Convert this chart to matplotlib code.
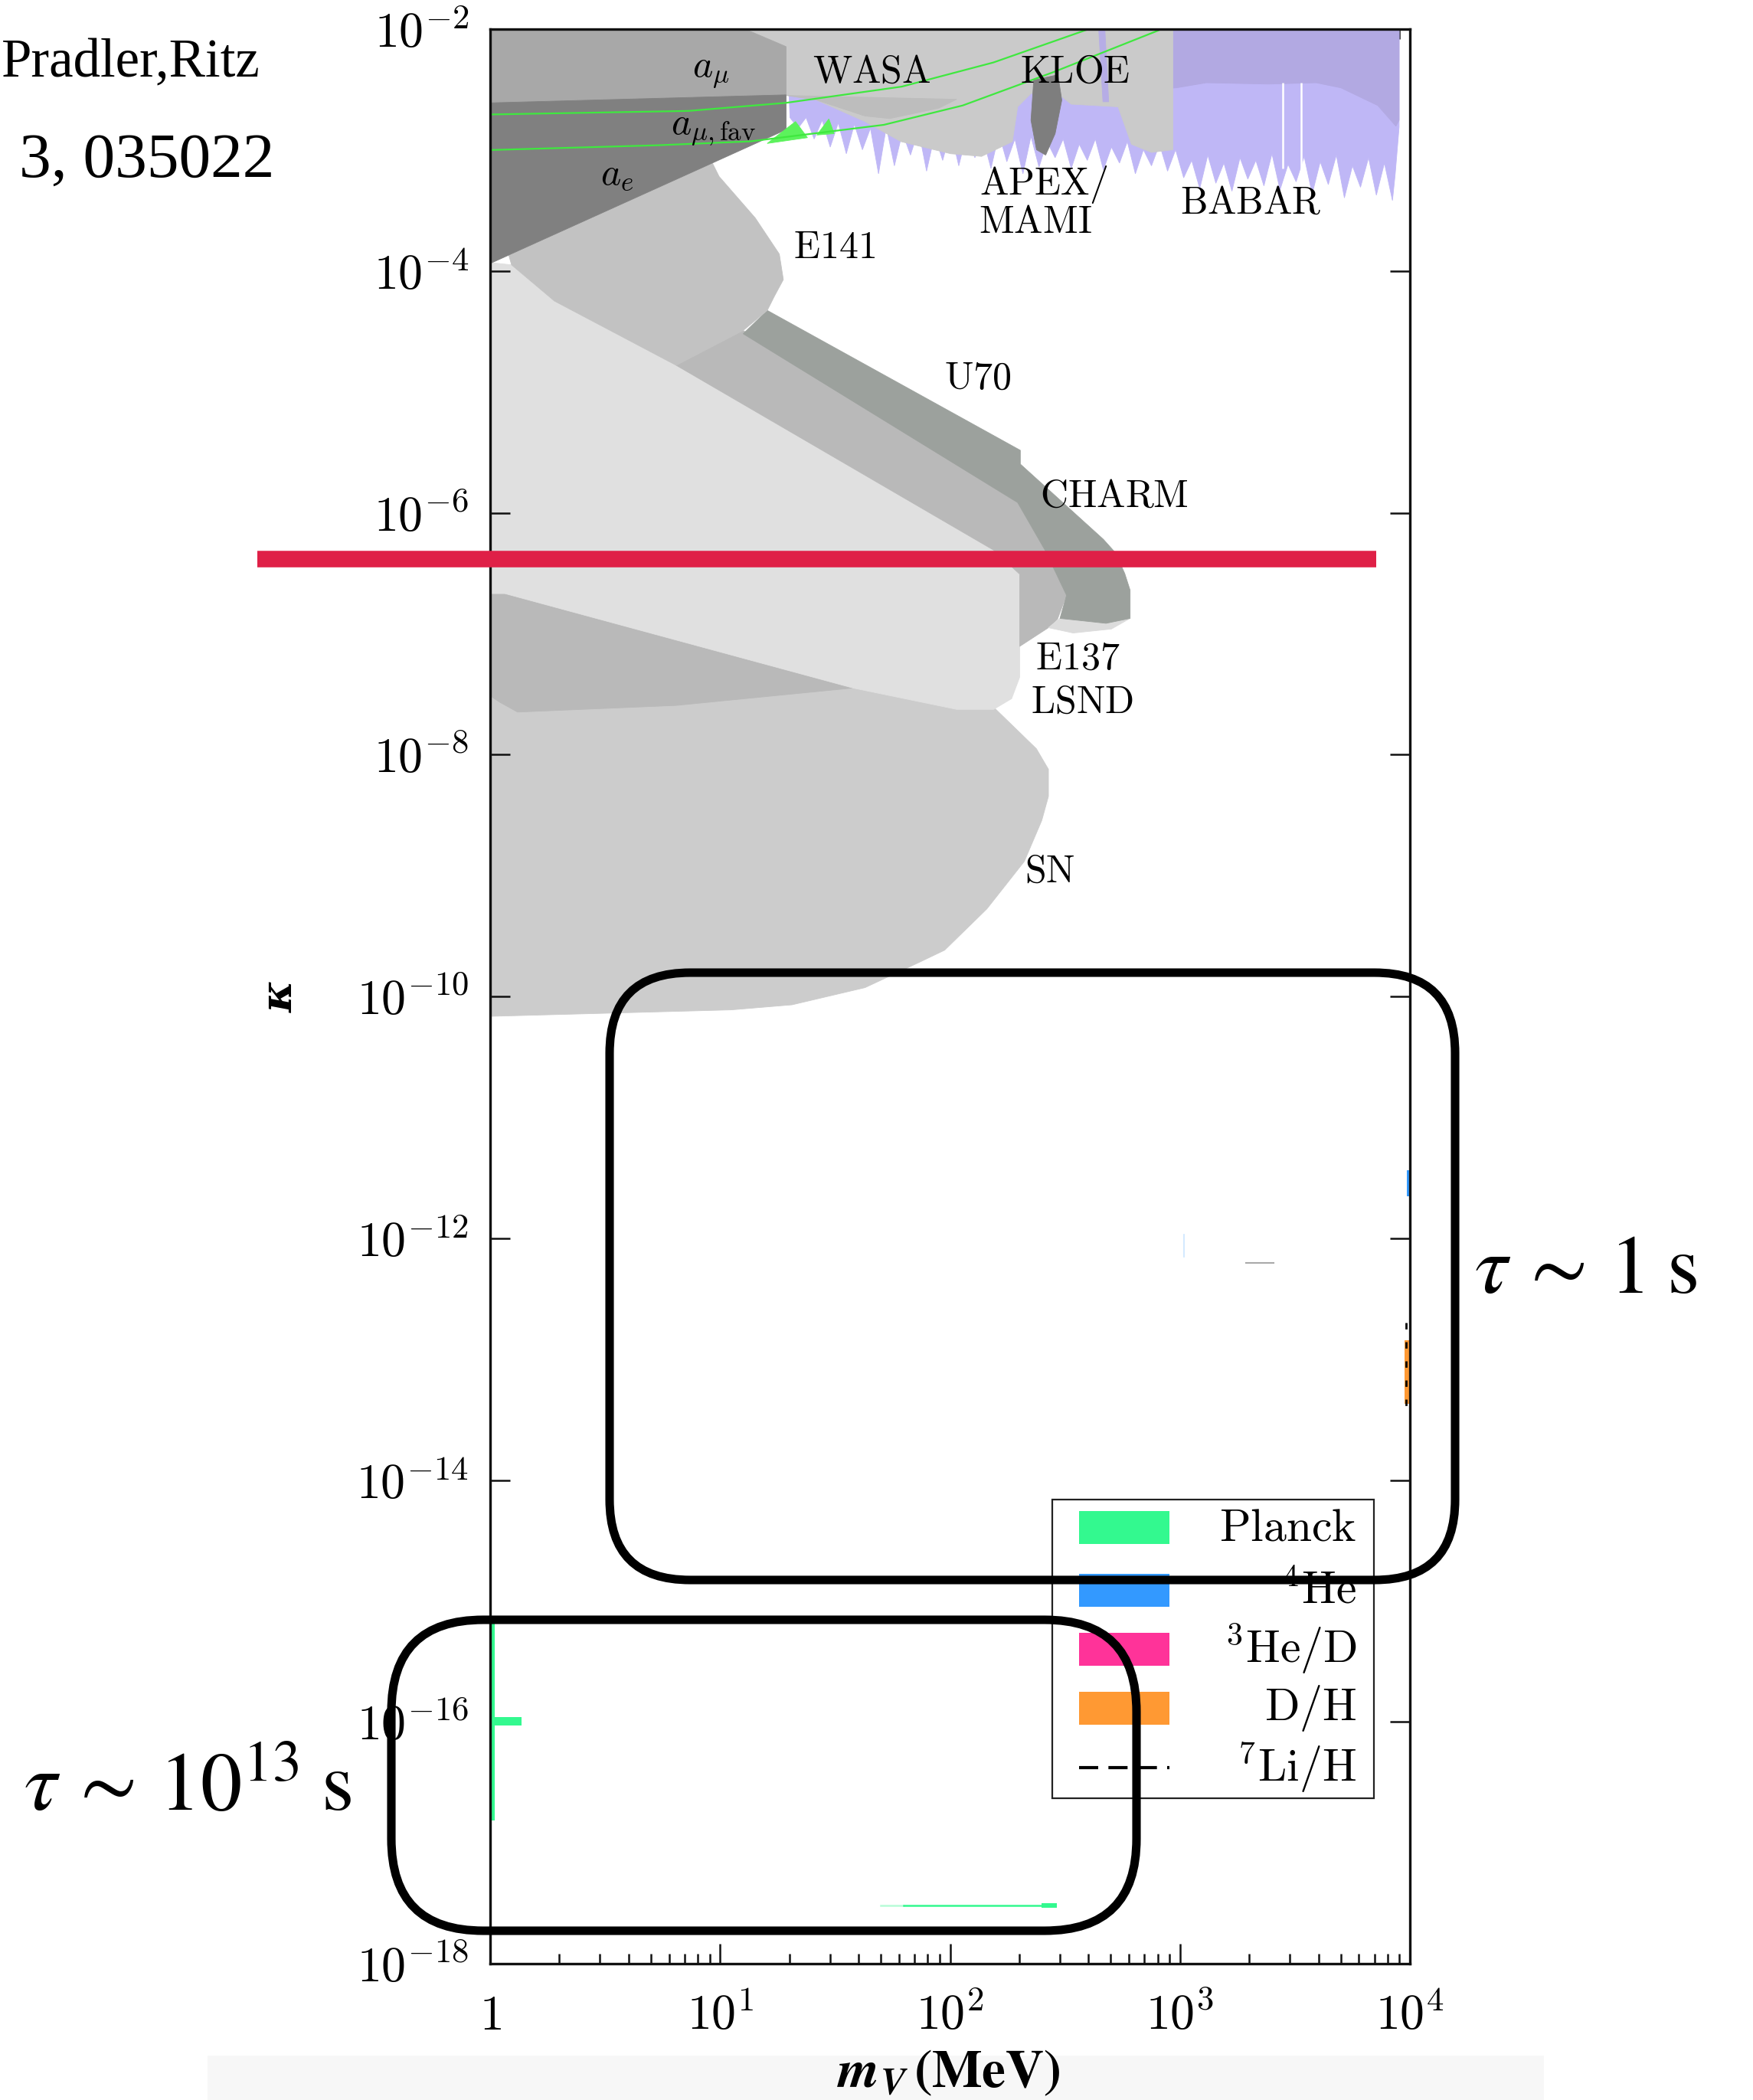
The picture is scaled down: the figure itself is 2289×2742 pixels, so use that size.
import numpy as np
import matplotlib
matplotlib.use("Agg")
import matplotlib.pyplot as plt
from matplotlib.patches import Rectangle, FancyBboxPatch
from matplotlib.transforms import IdentityTransform
from matplotlib.ticker import FixedLocator, LogLocator, NullLocator, FuncFormatter

plt.rcParams['mathtext.fontset'] = 'cm'
plt.rcParams['font.family'] = ['DejaVu Serif']

# ------------------------------------------------------------------
# values: log10(m_V / MeV) and log10(kappa)
# ------------------------------------------------------------------
# g-2 regions
amu_lm = [-0.05, 1.048, 1.287, 1.287, -0.05]
amu_lk = [-1.95, -1.95, -2.144, -2.543, -2.612]
ae_lm = [-0.05, 1.287, 1.287, -0.05]
ae_lk = [-2.612, -2.543, -2.831, -3.981]

# favoured a_mu band (green lines)
fav_up_lm = [-0.05, 0.862, 1.287, 1.790, 2.189, 2.585, 2.65]
fav_up_lk = [-2.707, -2.676, -2.609, -2.475, -2.275, -2.011, -1.97]
fav_lo_lm = [-0.05, 0.728, 1.130, 1.712, 2.055, 2.451, 2.905, 2.95]
fav_lo_lk = [-3.002, -2.960, -2.928, -2.791, -2.631, -2.354, -2.011, -1.97]
fav_w1_lm = [1.205, 1.328, 1.380]
fav_w1_lk = [-2.945, -2.764, -2.897]
fav_w2_lm = [1.421, 1.473, 1.496]
fav_w2_lk = [-2.875, -2.742, -2.864]

# WASA / KLOE
wasa_lm = [1.048, 2.969, 2.969, 2.876, 2.789, 2.731, 2.527, 2.469, 2.352, 2.294,
           2.271, 2.137, 2.003, 1.787, 1.630, 1.421, 1.287, 1.287]
wasa_lk = [-1.95, -1.95, -2.997, -3.019, -2.952, -2.642, -2.620, -2.532, -2.532, -2.642,
           -2.930, -3.052, -3.030, -2.930, -2.764, -2.587, -2.543, -2.144]
wasa2_lm = [1.287, 2.029, 1.951, 1.738, 1.630, 1.421]
wasa2_lk = [-2.548, -2.580, -2.653, -2.739, -2.718, -2.587]
kloe_lm = [2.364, 2.469, 2.486, 2.457, 2.416, 2.376, 2.352]
kloe_lk = [-2.421, -2.377, -2.587, -2.864, -3.041, -2.997, -2.753]
strip_lm = [2.645, 2.672, 2.690, 2.665]
strip_lk = [-1.95, -1.95, -2.60, -2.60]

# APEX / MAMI / BABAR: spiky lower edge, right to left
babar_edge_lm = [3.924, 3.889, 3.854, 3.820, 3.785, 3.750, 3.715, 3.680, 3.645, 3.610,
                 3.575, 3.540, 3.505, 3.470, 3.435, 3.400, 3.365, 3.330, 3.295, 3.261,
                 3.226, 3.191, 3.156, 3.121, 3.086, 3.051, 3.016, 2.981, 2.946, 2.911,
                 2.876, 2.841, 2.806, 2.771, 2.737, 2.702, 2.667, 2.632, 2.597, 2.562,
                 2.527, 2.492, 2.457, 2.422, 2.387, 2.352, 2.317, 2.282, 2.247, 2.213,
                 2.178, 2.143, 2.108, 2.073, 2.038, 2.003, 1.968, 1.933, 1.898, 1.863,
                 1.828, 1.793, 1.758, 1.723, 1.689, 1.654, 1.619, 1.584, 1.549, 1.514,
                 1.479, 1.444, 1.409, 1.374, 1.339, 1.304]
babar_edge_lk = [-3.417, -3.107, -3.373, -3.063, -3.307, -3.130, -3.395, -3.041, -3.285, -3.096,
                 -3.362, -3.052, -3.262, -3.118, -3.329, -3.030, -3.296, -3.085, -3.240, -3.063,
                 -3.340, -3.107, -3.274, -3.041, -3.318, -3.085, -3.229, -2.997, -3.174, -2.952,
                 -3.130, -2.997, -3.196, -2.930, -3.107, -2.975, -3.163, -2.908, -3.085, -2.952,
                 -3.152, -2.908, -3.063, -2.930, -3.141, -2.886, -3.196, -2.908, -3.096, -2.864,
                 -3.152, -2.897, -3.063, -2.864, -3.130, -2.842, -3.085, -2.875, -3.174, -2.831,
                 -3.041, -2.853, -3.130, -2.808, -3.196, -2.819, -2.997, -2.786, -3.030, -2.775,
                 -2.975, -2.753, -2.908, -2.731, -2.819, -2.731]
babar_top_lm = [1.287, 3.953, 3.953, 3.936]
babar_top_lk = [-1.95, -1.95, -2.808, -3.196]
babar_dark_lm = [2.969, 3.953, 3.953, 3.939, 3.860, 3.700, 3.592, 3.383, 3.115, 2.984, 2.969]
babar_dark_lk = [-1.95, -1.95, -2.753, -2.802, -2.631, -2.485, -2.443, -2.454, -2.443, -2.485, -2.487]
babar_gap_lm = [3.447, 3.528]

# beam dumps
e141_lm = [0.0815, 0.9665, 0.9956, 1.1528, 1.2576, 1.2751, 1.2344, 1.2052, 1.1004, 0.8093, 0.2795, 0.0932]
e141_lk = [-3.872, -3.107, -3.218, -3.561, -3.860, -4.071, -4.215, -4.326, -4.492, -4.780, -4.248, -3.949]
e137_lm = [-0.05, 0.0932, 0.2795, 0.8093, 2.1892, 2.3028, 2.3028, 2.2678, 2.1892, 2.0291, 1.5779, 0.0640, -0.05]
e137_lk = [-3.92, -3.949, -4.248, -4.780, -6.308, -6.507, -7.360, -7.537, -7.626, -7.626, -7.449, -6.668, -6.668]
u70_lm = [1.1004, 2.2940, 2.4140, 2.5066, 2.4670, 2.4279, 2.3028, 2.3028, 2.1892, 0.8093]
u70_lk = [-4.492, -5.915, -6.312, -6.682, -6.881, -6.950, -7.105, -6.507, -6.308, -4.780]
charm_lm = [1.2052, 2.3057, 2.3057, 2.6667, 2.7191, 2.7598, 2.7831, 2.7831, 2.6783, 2.4782,
            2.5066, 2.4140, 2.2940, 1.1004]
charm_lk = [-4.326, -5.483, -5.597, -6.219, -6.330, -6.502, -6.640, -6.873, -6.914, -6.873,
            -6.682, -6.312, -5.915, -4.519]
sliver_lm = [2.4279, 2.4782, 2.6783, 2.7831, 2.7016, 2.5357]
sliver_lk = [-6.950, -6.873, -6.914, -6.873, -6.961, -6.994]
lsnd_lm = [-0.05, 0.0640, 1.5779, 0.8093, 0.1194, 0.0408, -0.05]
lsnd_lk = [-6.668, -6.668, -7.449, -7.593, -7.648, -7.565, -7.449]

# supernova
sn_lm = [-0.05, 1.5779, 2.0291, 2.1892, 2.3755, 2.4279, 2.4279, 2.3988, 2.3231, 2.1601,
         1.9767, 1.8690, 1.6303, 1.3130, 1.0480, -0.05]
sn_lk = [-7.515, -7.437, -7.607, -7.607, -7.951, -8.121, -8.345, -8.545, -8.883, -9.276,
         -9.617, -9.715, -9.927, -10.069, -10.111, -10.167]

# cosmology / BBN bits
planck_v_lm = [0.0, 0.02]
planck_v_lk = [-15.156, -16.817]
planck_h_lm = [0.0, 0.137]
planck_h_lk = [-15.961, -16.031]
planck_low_lm = [1.699, 1.80, 2.40]
planck_low_lk = -17.517
planck_blob_lm = [2.398, 2.465]
planck_blob_lk = [-17.498, -17.536]
he4_lm = [3.985, 4.0]
he4_lk = [-11.438, -11.653]
dh_lm = [3.978, 4.0]
dh_lk = [-12.844, -13.370]
li7_lm = 3.982
li7_lk = [-12.70, -13.40]
faint_he4_lm = 3.0165
faint_he4_lk = [-11.968, -12.155]
faint_li_lm = [3.287, 3.407]
faint_li_lk = -12.204

# the horizontal marker line
marker_lm = [-1.013, 3.854]
marker_lk = -6.385

region_labels = [r'$a_\mu$', r'$a_{\mu,\mathrm{fav}}$', r'$a_e$', r'$\mathrm{WASA}$', r'$\mathrm{KLOE}$',
                 r'$\mathrm{APEX/}$', r'$\mathrm{MAMI}$', r'$\mathrm{BABAR}$', r'$\mathrm{E141}$',
                 r'$\mathrm{U70}$', r'$\mathrm{CHARM}$', r'$\mathrm{E137}$', r'$\mathrm{LSND}$', r'$\mathrm{SN}$']
label_lm = [0.961, 0.972, 0.553, 1.659, 2.544, 2.405, 2.370, 3.307, 1.496, 2.119, 2.713, 2.556, 2.574, 2.434]
label_lk = [-2.343, -2.819, -3.196, -2.354, -2.354, -3.285, -3.595, -3.440, -3.805, -4.890, -5.865,
            -7.205, -7.570, -8.966]

legend_labels = [r'$\mathrm{Planck}$', r'${}^{4}\mathrm{He}$', r'${}^{3}\mathrm{He/D}$',
                 r'$\mathrm{D/H}$', r'${}^{7}\mathrm{Li/H}$']
legend_colors = ['#33F98F', '#3399FF', '#FF3399', '#FF9933', None]


def E(v):
    return 10.0 ** np.asarray(v, dtype=float)


fig = plt.figure(figsize=(22.89, 27.42), dpi=100, facecolor='white')
ax = fig.add_axes([0.2796, 0.0649, 0.5247, 0.9212])


def region(lm, lk, color, z):
    ax.fill(E(lm), E(lk), fc=color, ec=color, lw=0.6, zorder=z)


region(sn_lm, sn_lk, '#CCCCCC', 1.0)
region(lsnd_lm, lsnd_lk, '#B9B9B9', 1.1)
region(e137_lm, e137_lk, '#E0E0E0', 1.2)
region(u70_lm, u70_lk, '#B9B9B9', 1.3)
region(charm_lm, charm_lk, '#9CA19D', 1.4)
region(sliver_lm, sliver_lk, '#DCDCDC', 1.35)
region(e141_lm, e141_lk, '#C2C2C2', 1.5)

babar_lm = babar_top_lm + babar_edge_lm
babar_lk = babar_top_lk + babar_edge_lk
region(babar_lm, babar_lk, '#BFB7F6', 1.6)
region(babar_dark_lm, babar_dark_lk, '#B2A9E2', 1.7)
ax.vlines(E(babar_gap_lm), 10**-2.44, 10**-3.15, colors='white', lw=1.8, zorder=1.75)

region(wasa_lm, wasa_lk, '#CACACA', 2.0)
region(wasa2_lm, wasa2_lk, '#BDBDBD', 2.05)
region(strip_lm, strip_lk, '#B6ADE6', 2.06)
region(amu_lm, amu_lk, '#A8A8A8', 2.1)
region(ae_lm, ae_lk, '#808080', 2.2)
region(kloe_lm, kloe_lk, '#7E7E7E', 2.3)

region(fav_w1_lm, fav_w1_lk, '#5CF25C', 2.4)
region(fav_w2_lm, fav_w2_lk, '#5CF25C', 2.4)
ax.plot(E(fav_up_lm), E(fav_up_lk), color='#3FE83F', lw=1.6, zorder=2.5)
ax.plot(E(fav_lo_lm), E(fav_lo_lk), color='#3FE83F', lw=1.6, zorder=2.5)

# planck / bbn pieces
ax.fill_betweenx(E(planck_v_lk), E(planck_v_lm)[0], E(planck_v_lm)[1], color='#33F98F', lw=0, zorder=2)
ax.fill_between(E(planck_h_lm), E(planck_h_lk)[0], E(planck_h_lk)[1], color='#33F98F', lw=0, zorder=2)
ax.plot(E(planck_low_lm[:2]), [10**planck_low_lk] * 2, color='#33F98F', lw=1.8, alpha=0.35, zorder=2)
ax.plot(E(planck_low_lm[1:]), [10**planck_low_lk] * 2, color='#33F98F', lw=1.8, zorder=2)
ax.fill_between(E(planck_blob_lm), E(planck_blob_lk)[0], E(planck_blob_lk)[1], color='#33F98F', lw=0, zorder=2)
ax.fill_between(E(he4_lm), E(he4_lk)[0], E(he4_lk)[1], color='#3399FF', lw=0, zorder=2)
ax.fill_between(E(dh_lm), E(dh_lk)[0], E(dh_lk)[1], color='#FF9933', lw=0, zorder=2)
ax.plot([10**li7_lm] * 2, E(li7_lk), color='black', lw=2, ls=(0, (3, 6)), zorder=2.1)
ax.plot([10**faint_he4_lm] * 2, E(faint_he4_lk), color='#3399FF', lw=1.2, alpha=0.25, zorder=2)
ax.plot(E(faint_li_lm), [10**faint_li_lk] * 2, color='#555555', lw=1.5, alpha=0.5, zorder=2)

for txt, lm, lk in zip(region_labels, label_lm, label_lk):
    ax.text(10**lm, 10**lk, txt, fontsize=36, ha='center', va='center', zorder=4)

# axes
ax.set_xscale('log')
ax.set_yscale('log')
ax.set_xlim(1, 1e4)
ax.set_ylim(1e-18, 1e-2)
ax.yaxis.set_major_locator(FixedLocator(10.0 ** np.arange(-18, -1, 2)))
ax.yaxis.set_minor_locator(NullLocator())
ax.yaxis.set_major_formatter(FuncFormatter(lambda v, p: r'$10^{%d}$' % round(np.log10(v))))
ax.xaxis.set_major_locator(FixedLocator([1, 10, 100, 1000, 10000]))
ax.xaxis.set_minor_locator(LogLocator(base=10, subs=np.arange(2, 10), numticks=30))
ax.xaxis.set_major_formatter(FuncFormatter(
    lambda v, p: r'$1$' if round(np.log10(v)) == 0 else r'$10^{%d}$' % round(np.log10(v))))
ax.tick_params(which='both', direction='in', top=True, right=True, width=1.8, labelsize=46,
               color='#111111')
ax.tick_params(which='major', length=19)
ax.tick_params(which='minor', length=9.5)
ax.tick_params(axis='y', pad=20)
ax.tick_params(axis='x', pad=62)
for lab in ax.get_xticklabels():
    lab.set_verticalalignment('baseline')
for s in ax.spines.values():
    s.set_linewidth(2.4)
    s.set_color('#111111')

ax.set_xlabel(r'$\mathbfit{m}_{\mathbfit{V}}\,\mathbf{(MeV)}$', fontsize=50, math_fontfamily='stix')
ax.xaxis.set_label_coords(0.4988, -0.0430)
ax.set_ylabel('κ', fontsize=40, fontweight='bold', fontstyle='italic')
ax.yaxis.set_label_coords(-0.205, 0.5)

# legend, drawn by hand so the labels sit flush right
ax.add_patch(Rectangle((0.611, 0.0855), 0.350, 0.1544, transform=ax.transAxes,
                       fc='white', ec='#222222', lw=1.6, zorder=5))
row_y = [0.2253, 0.1932, 0.1627, 0.1322, 0.1013]
for lab, col, y in zip(legend_labels, legend_colors, row_y):
    if col is None:
        ax.plot([0.6403, 0.7385], [y, y], transform=ax.transAxes, color='black', lw=3,
                dashes=(6, 3.2), zorder=6)
    else:
        ax.add_patch(Rectangle((0.6403, y - 0.0085), 0.0982, 0.017, transform=ax.transAxes,
                               fc=col, ec='none', zorder=6))
    ax.text(0.942, y, lab, transform=ax.transAxes, fontsize=43, ha='right', va='center', zorder=6)

# presenter's marks on top
ax.plot(E(marker_lm), [10**marker_lk] * 2, color='#DF2047', lw=15.5, solid_capstyle='butt',
        clip_on=False, zorder=10)

ident = IdentityTransform()
fig.add_artist(Rectangle((271, 0), 1745, 58, transform=ident, fc='#F7F7F7', ec='none', zorder=-1))
fig.add_artist(FancyBboxPatch((796, 679), 1104, 793, boxstyle='round,pad=0,rounding_size=105',
                              transform=ident, fc='none', ec='black', lw=8, zorder=20))
fig.add_artist(FancyBboxPatch((511, 221), 973, 406, boxstyle='round,pad=0,rounding_size=120',
                              transform=ident, fc='none', ec='black', lw=8, zorder=20))

fig.text(0.9045, 0.3953, r'$\tau\,\sim\,1\;\mathrm{s}$', fontsize=78, math_fontfamily='stix',
         ha='center', va='center')
fig.text(0.107, 0.1488, r'$\tau\,\sim\,10^{13}\;\mathrm{s}$', fontsize=78, math_fontfamily='stix',
         ha='center', va='center')
fig.text(0.001, 0.9632, 'Pradler,Ritz', fontsize=51, family='Liberation Serif',
         ha='left', va='baseline')
fig.text(0.1564, 0.9158, '3, 035022', fontsize=60, family='Liberation Serif',
         ha='right', va='baseline')

fig.savefig('out.png', dpi=100)
